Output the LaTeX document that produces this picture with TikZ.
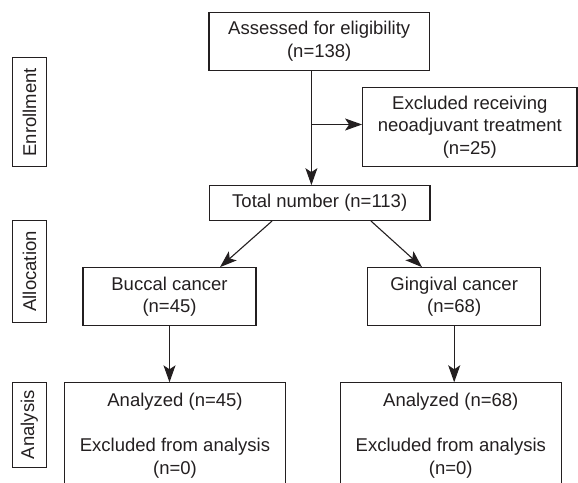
\documentclass[tikz,border=0pt]{standalone}
\usepackage{fontspec}
\setmainfont{Liberation Sans}
\usetikzlibrary{arrows.meta}
\definecolor{ink}{HTML}{231F20}
\begin{document}
\begin{tikzpicture}[x=1pt,y=-1pt,
  box/.style={draw=ink, line width=1.1pt, inner sep=0pt, text=ink, align=center,
    font=\fontsize{18.5}{22.5}\selectfont},
  txt/.style={inner sep=0pt, text=ink, align=center, font=\fontsize{18.5}{22.5}\selectfont},
  lbl/.style={box, rotate=90},
  arr/.style={draw=ink, line width=1.1pt, -{Stealth[length=17pt,width=12pt,inset=4pt]}}]
\clip (0,0) rectangle (578,482);
% labels
\node[lbl, minimum width=109pt, minimum height=34pt] (enr) at (29.4,112.2) {Enrollment};
\node[lbl, minimum width=102.7pt, minimum height=34pt] (alo) at (29.4,271.4) {Allocation};
\node[lbl, minimum width=85.3pt, minimum height=34pt] (ana) at (29.4,424.7) {Analysis};
% flow boxes
\node[box, minimum width=220.4pt, minimum height=57.7pt] (asse) at (319.2,41.2) {Assessed for eligibility\\(n=138)};
\node[box, minimum width=214.3pt, minimum height=79.2pt] (excl) at (469.8,127.1) {Excluded receiving\\neoadjuvant treatment\\(n=25)};
\node[box, minimum width=220.5pt, minimum height=34.8pt] (tot) at (319.7,203.1) {Total number (n=113)};
\node[box, minimum width=173pt, minimum height=58pt] (buc) at (169.5,296.7) {Buccal cancer\\(n=45)};
\node[box, minimum width=173pt, minimum height=58pt] (gin) at (454.2,296.7) {Gingival cancer\\(n=68)};
\node[box, anchor=north, minimum width=221pt, minimum height=140pt] (anl) at (175,382.3) {};
\node[box, anchor=north, minimum width=220.5pt, minimum height=140pt] (anr) at (450.8,382.3) {};
\node[txt, anchor=north] (anlt) at ([yshift=-11pt]anl.north) {Analyzed (n=45)\\[22.5pt]Excluded from analysis\\(n=0)};
\node[txt, anchor=north] (anrt) at ([yshift=-11pt]anr.north) {Analyzed (n=68)\\[22.5pt]Excluded from analysis\\(n=0)};
% connectors
\coordinate (br) at (311.4,124.5);
\draw[arr] (asse.south -| br) -- (tot.north -| br);
\draw[arr] (br) -- (br -| excl.west);
\draw[arr] ([xshift=-47.7pt]tot.south) -- ([xshift=50.5pt]buc.north);
\draw[arr] ([xshift=51.3pt]tot.south) -- ([xshift=-32.2pt]gin.north);
\draw[arr] (buc.south) -- (buc.south |- anl.north);
\draw[arr] (gin.south) -- (gin.south |- anr.north);
\end{tikzpicture}
\end{document}
